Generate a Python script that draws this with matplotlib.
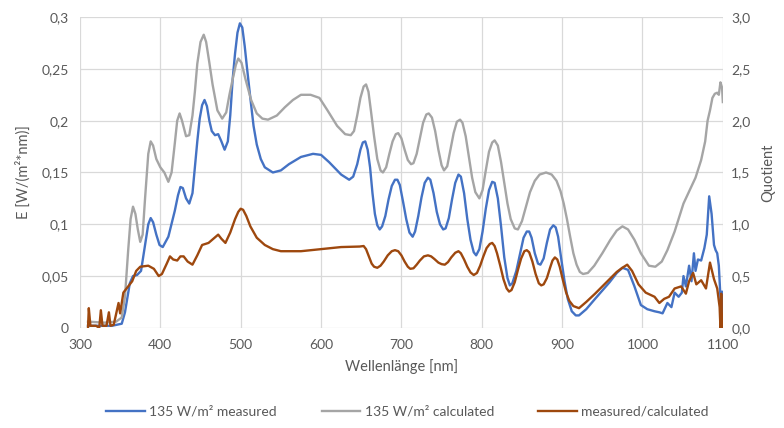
import matplotlib as mpl
import matplotlib.pyplot as plt
import matplotlib.ticker as ticker

# Spectral irradiance, 135 W/m2: measured vs. calculated, plus their quotient
wl_meas = [310, 340, 352, 356, 362, 366, 371, 376, 381, 385, 388, 391, 395, 399, 403,
           410, 418, 422, 425, 428, 432, 436, 440, 443, 446, 449, 452, 455, 458, 461,
           464, 468, 472, 476, 480, 484, 487, 490, 493, 496, 499, 502, 505, 508, 512,
           516, 520, 525, 530, 540, 550, 560, 575, 590, 600, 610, 625, 635, 640, 645,
           649, 652, 655, 658, 661, 664, 667, 670, 673, 676, 680, 684, 688, 692, 695,
           698, 702, 706, 710, 714, 717, 721, 725, 729, 733, 736, 740, 744, 748, 752,
           755, 759, 763, 767, 771, 774, 778, 782, 786, 790, 793, 797, 801, 805, 809,
           813, 816, 820, 824, 828, 832, 835, 838, 843, 848, 852, 856, 859, 862, 866,
           870, 873, 877, 881, 885, 889, 892, 895, 899, 903, 907, 912, 917, 921, 930,
           941, 950, 959, 968, 975, 982, 990, 998, 1006, 1015, 1021, 1025, 1031, 1036, 1040,
           1045, 1049, 1051, 1054, 1058, 1061, 1064, 1066, 1069, 1073, 1077, 1080, 1083, 1086, 1089,
           1091, 1093, 1095, 1097, 1098, 1099, 1100]
e_meas = [0.002, 0.002, 0.004, 0.015, 0.043, 0.05, 0.051, 0.055, 0.08, 0.1, 0.106, 0.102, 0.09, 0.08, 0.078,
          0.088, 0.113, 0.128, 0.136, 0.135, 0.125, 0.12, 0.13, 0.155, 0.18, 0.202, 0.215, 0.22, 0.214, 0.2,
          0.19, 0.186, 0.187, 0.18, 0.172, 0.18, 0.205, 0.24, 0.265, 0.285, 0.294, 0.29, 0.272, 0.25, 0.222,
          0.195, 0.177, 0.163, 0.155, 0.15, 0.152, 0.158, 0.165, 0.168, 0.167, 0.16, 0.148, 0.143, 0.146, 0.158,
          0.172, 0.179, 0.18, 0.172, 0.155, 0.13, 0.11, 0.099, 0.095, 0.098, 0.108, 0.124, 0.137, 0.143, 0.143,
          0.138, 0.122, 0.105, 0.092, 0.088, 0.093, 0.108, 0.126, 0.14, 0.145, 0.143, 0.13, 0.112, 0.1, 0.095,
          0.096, 0.106, 0.124, 0.14, 0.148, 0.146, 0.13, 0.105, 0.085, 0.073, 0.07, 0.076, 0.093, 0.115, 0.133,
          0.141, 0.14, 0.125, 0.098, 0.068, 0.048, 0.041, 0.043, 0.055, 0.073, 0.087, 0.093, 0.093, 0.087, 0.072,
          0.062, 0.061, 0.067, 0.082, 0.095, 0.099, 0.097, 0.088, 0.066, 0.045, 0.028, 0.016, 0.012, 0.012, 0.018,
          0.028, 0.036, 0.044, 0.053, 0.058, 0.056, 0.04, 0.022, 0.018, 0.016, 0.015, 0.014, 0.024, 0.02, 0.034,
          0.03, 0.034, 0.05, 0.04, 0.06, 0.045, 0.072, 0.055, 0.066, 0.065, 0.077, 0.09, 0.127, 0.11, 0.08,
          0.075, 0.072, 0.06, 0.03, 0.0, 0.035, 0.0]

wl_calc = [310, 330, 345, 352, 356, 360, 363, 366, 369, 372, 375, 378, 381, 385, 388,
           391, 395, 400, 405, 410, 414, 418, 421, 424, 427, 432, 436, 440, 443, 446,
           450, 454, 457, 461, 465, 471, 477, 482, 486, 490, 494, 497, 501, 506, 513,
           520, 527, 534, 545, 555, 565, 575, 587, 598, 608, 620, 630, 637, 641, 645,
           649, 653, 656, 659, 662, 666, 670, 674, 677, 681, 685, 689, 693, 696, 700,
           704, 708, 712, 715, 719, 723, 727, 731, 734, 738, 742, 746, 750, 753, 757,
           761, 765, 769, 773, 776, 780, 784, 788, 792, 797, 801, 805, 809, 813, 816,
           820, 824, 828, 832, 836, 841, 845, 850, 855, 860, 866, 872, 880, 887, 893,
           898, 902, 906, 910, 914, 918, 922, 926, 932, 940, 950, 960, 968, 975, 982,
           990, 998, 1008, 1016, 1024, 1031, 1040, 1051, 1060, 1066, 1073, 1078, 1081, 1084, 1087,
           1090, 1093, 1095, 1097, 1099, 1100]
e_calc = [0.006, 0.005, 0.006, 0.01, 0.03, 0.075, 0.105, 0.117, 0.11, 0.095, 0.083, 0.09, 0.125, 0.168, 0.18,
          0.176, 0.163, 0.155, 0.15, 0.141, 0.15, 0.178, 0.2, 0.207, 0.2, 0.185, 0.186, 0.205, 0.228, 0.255,
          0.276, 0.283, 0.276, 0.256, 0.235, 0.21, 0.202, 0.208, 0.225, 0.24, 0.254, 0.26, 0.256, 0.24, 0.22,
          0.207, 0.202, 0.201, 0.205, 0.213, 0.22, 0.225, 0.225, 0.222, 0.21, 0.195, 0.187, 0.186, 0.19, 0.205,
          0.222, 0.233, 0.235, 0.228, 0.21, 0.185, 0.163, 0.152, 0.15, 0.155, 0.168, 0.18, 0.187, 0.188, 0.183,
          0.172, 0.162, 0.158, 0.159, 0.168, 0.183, 0.198, 0.206, 0.207, 0.203, 0.19, 0.172, 0.157, 0.152, 0.156,
          0.172, 0.188, 0.199, 0.201, 0.198, 0.185, 0.165, 0.145, 0.131, 0.125, 0.133, 0.152, 0.17, 0.179, 0.181,
          0.176, 0.16, 0.14, 0.12, 0.105, 0.096, 0.095, 0.103, 0.117, 0.131, 0.142, 0.148, 0.15, 0.148, 0.142,
          0.132, 0.12, 0.105, 0.088, 0.072, 0.061, 0.054, 0.052, 0.053, 0.06, 0.072, 0.085, 0.094, 0.098, 0.095,
          0.085, 0.072, 0.06, 0.059, 0.064, 0.075, 0.093, 0.12, 0.135, 0.145, 0.162, 0.18, 0.2, 0.21, 0.222,
          0.226, 0.227, 0.225, 0.237, 0.232, 0.218]

wl_quot = [310, 311, 313, 320, 324, 326, 328, 333, 336, 338, 342, 348, 350, 354, 360,
           365, 370, 375, 385, 392, 398, 402, 408, 412, 416, 421, 425, 429, 434, 440,
           446, 452, 460, 466, 472, 476, 481, 487, 493, 497, 500, 503, 507, 512, 520,
           530, 540, 550, 575, 600, 625, 648, 653, 656, 660, 663, 666, 670, 674, 678,
           683, 688, 692, 696, 700, 704, 708, 711, 715, 719, 723, 728, 733, 737, 741,
           746, 750, 754, 758, 762, 767, 771, 774, 778, 782, 786, 790, 794, 798, 802,
           806, 810, 813, 816, 819, 823, 827, 831, 834, 837, 841, 845, 849, 853, 856,
           859, 863, 867, 871, 874, 877, 881, 885, 888, 891, 894, 897, 901, 905, 909,
           914, 921, 930, 941, 950, 959, 968, 975, 981, 987, 995, 1004, 1015, 1021, 1027,
           1033, 1040, 1048, 1054, 1058, 1063, 1067, 1073, 1079, 1084, 1089, 1093, 1096, 1097, 1098,
           1099, 1100]
quotient = [0.0, 0.19, 0.02, 0.02, 0.0, 0.17, 0.02, 0.02, 0.15, 0.02, 0.03, 0.24, 0.14, 0.34, 0.4,
            0.45, 0.55, 0.59, 0.6, 0.57, 0.5, 0.52, 0.62, 0.69, 0.66, 0.65, 0.69, 0.69, 0.64, 0.61,
            0.7, 0.8, 0.82, 0.86, 0.9, 0.86, 0.82, 0.92, 1.05, 1.12, 1.15, 1.14, 1.08, 0.98, 0.87,
            0.8, 0.76, 0.74, 0.74, 0.76, 0.78, 0.785, 0.79, 0.76, 0.68, 0.62, 0.59, 0.58, 0.6, 0.64,
            0.7, 0.74, 0.75, 0.74, 0.7, 0.64, 0.59, 0.57, 0.575, 0.61, 0.65, 0.69, 0.7, 0.69, 0.665,
            0.63, 0.615, 0.61, 0.635, 0.68, 0.725, 0.74, 0.72, 0.66, 0.59, 0.535, 0.51, 0.53, 0.6, 0.69,
            0.77, 0.81, 0.82, 0.79, 0.72, 0.6, 0.47, 0.38, 0.35, 0.365, 0.44, 0.56, 0.67, 0.74, 0.75,
            0.73, 0.64, 0.52, 0.43, 0.41, 0.42, 0.48, 0.58, 0.65, 0.68, 0.66, 0.59, 0.46, 0.34, 0.26,
            0.21, 0.19, 0.25, 0.33, 0.4, 0.47, 0.54, 0.58, 0.61, 0.55, 0.42, 0.34, 0.3, 0.24, 0.28,
            0.3, 0.38, 0.4, 0.33, 0.45, 0.53, 0.42, 0.46, 0.38, 0.63, 0.47, 0.38, 0.2, 0.0, 0.33,
            0.05, 0.0]

txt = '#595959'
grid_c = '#d9d9d9'
lw = 1.7

mpl.rcParams['font.family'] = ['Lato', 'DejaVu Sans']
plt.rcParams['font.size'] = 10

fig = plt.figure(figsize=(7.84, 4.28), dpi=100)
ax = fig.add_axes([0.102, 0.234, 0.820, 0.726])
ax2 = ax.twinx()

l1, = ax.plot(wl_meas, e_meas, color='#4472c4', linewidth=lw, label='135 W/m² measured')
l2, = ax.plot(wl_calc, e_calc, color='#a5a5a5', linewidth=lw, label='135 W/m² calculated')
l3, = ax2.plot(wl_quot, quotient, color='#9e480e', linewidth=lw, label='measured/calculated')

ax.set_xlim(300, 1100)
ax.set_ylim(0, 0.3)
ax2.set_ylim(0, 3.0)
ax.xaxis.set_major_locator(ticker.MultipleLocator(100))
ax.yaxis.set_major_locator(ticker.MultipleLocator(0.05))
ax2.yaxis.set_major_locator(ticker.MultipleLocator(0.5))

# decimal comma on both value axes
ax.yaxis.set_major_formatter(ticker.FuncFormatter(lambda v, p: ('%g' % round(v, 2)).replace('.', ',')))
ax2.yaxis.set_major_formatter(ticker.FuncFormatter(lambda v, p: ('%.1f' % v).replace('.', ',')))

ax.grid(True, color=grid_c, linewidth=0.9)
ax.set_axisbelow(True)
for a in (ax, ax2):
    for s in a.spines.values():
        s.set_visible(False)
    a.tick_params(length=0, colors=txt, labelsize=10)
ax.tick_params(axis='x', pad=8)
ax.tick_params(axis='y', pad=8)
ax2.tick_params(axis='y', pad=6)

ax.set_xlabel('Wellenlänge [nm]', color=txt, fontsize=10.5, labelpad=6)
ax.set_ylabel('E [W/(m²*nm)]', color=txt, fontsize=10.5, labelpad=8)
ax2.set_ylabel('Quotient', color=txt, fontsize=10.5, labelpad=8)

leg = fig.legend(handles=[l1, l2, l3], loc='lower center', bbox_to_anchor=(0.52, -0.005),
                 ncol=3, frameon=False, fontsize=10, handlelength=2.8, handletextpad=0.3,
                 columnspacing=3.2)
for t in leg.get_texts():
    t.set_color(txt)

plt.savefig('out.png', dpi=100)
